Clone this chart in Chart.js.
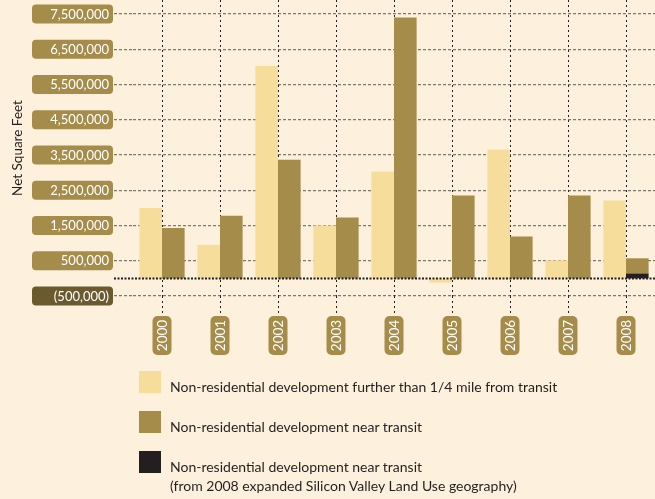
<!DOCTYPE html>
<html>
<head>
<meta charset="utf-8">
<script src="https://cdn.jsdelivr.net/npm/chart.js@4.4.1/dist/chart.umd.min.js"></script>
<style>
  html, body { margin: 0; padding: 0; background: #fdf1dd; }
  #wrap { position: relative; width: 655px; height: 499px; overflow: hidden; }
  #myChart { position: absolute; left: 0; top: 0; }
  .item { position: absolute; left: 139px; font-family: Lato, sans-serif; font-size: 14px; color: #231f20; white-space: nowrap; }
  .swatch { position: absolute; left: 0; top: 0; width: 22px; height: 22px; }
  .label { position: absolute; left: 31px; top: 6px; line-height: 19px; }
</style>
</head>
<body>
<div id="wrap">
  <canvas id="myChart" width="655" height="499"></canvas>
</div>
<script>
const years = ["2000", "2001", "2002", "2003", "2004", "2005", "2006", "2007", "2008"];
const furtherFromTransit = [2000000, 950000, 6030000, 1500000, 3030000, -120000, 3660000, 510000, 2210000];
const nearTransit = [1430000, 1780000, 3370000, 1730000, 7400000, 2350000, 1190000, 2350000, 430000];
const nearTransitExpanded = [null, null, null, null, null, null, null, null, 140000];
const yTicks = [-500000, 500000, 1500000, 2500000, 3500000, 4500000, 5500000, 6500000, 7500000];
const seriesNames = [
  ["Non-residential development further than 1/4 mile from transit"],
  ["Non-residential development near transit"],
  ["Non-residential development near transit", "(from 2008 expanded Silicon Valley Land Use geography)"]
];

const lightGold = "#f7dd9b";
const olive = "#a58c4b";
const nearBlack = "#231f20";
const darkPill = "#6b5a2f";

function fmt(v) {
  const s = Math.abs(v).toLocaleString("en-US");
  return v < 0 ? "(" + s + ")" : s;
}

// pills behind tick labels, dotted zero line
const pills = {
  id: "pills",
  afterDatasetsDraw(chart) {
    const { ctx, scales: { y } } = chart;
    const py = Math.round(y.getPixelForValue(0)) + 0.5;
    ctx.save();
    ctx.strokeStyle = nearBlack;
    ctx.lineWidth = 2;
    ctx.setLineDash([2, 1.5]);
    ctx.beginPath();
    ctx.moveTo(114, py);
    ctx.lineTo(655, py);
    ctx.stroke();
    ctx.restore();
  },
  afterDraw(chart) {
    const { ctx, scales: { x, y } } = chart;
    ctx.save();
    ctx.font = "13px Lato";
    ctx.textBaseline = "middle";
    yTicks.forEach(v => {
      const py = y.getPixelForValue(v);
      ctx.fillStyle = v < 0 ? darkPill : olive;
      ctx.beginPath();
      ctx.roundRect(32, py - 9.5, 81, 19, 4);
      ctx.fill();
      ctx.fillStyle = "#fff";
      ctx.textAlign = "right";
      ctx.fillText(fmt(v), 109, py + 0.5);
    });
    ctx.font = "13.5px Lato";
    years.forEach((yr, i) => {
      const px = x.getPixelForValue(i);
      ctx.fillStyle = olive;
      ctx.beginPath();
      ctx.roundRect(px - 9.5, 316, 19, 39, 5);
      ctx.fill();
      ctx.save();
      ctx.translate(px + 0.5, 335.5);
      ctx.rotate(-Math.PI / 2);
      ctx.fillStyle = "#fff";
      ctx.textAlign = "center";
      ctx.fillText(yr, 0, 0);
      ctx.restore();
    });
    ctx.restore();
  }
};

const ctx = document.getElementById("myChart");
new Chart(ctx, {
  type: "bar",
  data: {
    labels: years,
    datasets: [
      { label: seriesNames[0].join(" "), data: furtherFromTransit, backgroundColor: lightGold, stack: "a" },
      { label: seriesNames[2].join(" "), data: nearTransitExpanded, backgroundColor: nearBlack, stack: "b" },
      { label: seriesNames[1].join(" "), data: nearTransit, backgroundColor: olive, stack: "b" },
    ],
  },
  options: {
    responsive: false,
    animation: false,
    layout: { padding: { top: 0, left: 0, right: 0, bottom: 143 } },
    datasets: { bar: { categoryPercentage: 0.78, barPercentage: 1 } },
    plugins: { legend: { display: false }, tooltip: { enabled: false } },
    scales: {
      x: {
        stacked: true,
        grid: { offset: false, color: nearBlack, lineWidth: 1, tickLength: 20, borderDash: [2, 3], tickBorderDash: [2, 3] },
        border: { display: false, dash: [2, 3] },
        ticks: { display: false },
        afterFit(scale) { scale.height = 60; },
      },
      y: {
        stacked: true,
        min: -500000,
        max: 7900000,
        afterBuildTicks(scale) { scale.ticks = yTicks.map(v => ({ value: v })); },
        grid: { color: "rgba(50,45,40,0.62)", lineWidth: 1.3, tickLength: 19, borderDash: [3, 2], tickBorderDash: [3, 2] },
        border: { display: false, dash: [3, 2] },
        ticks: { display: false },
        title: { display: true, text: "Net Square Feet", color: nearBlack, font: { family: "Lato", size: 13.5 }, padding: { top: 10, bottom: 0 } },
        afterFit(scale) { scale.width = 133; },
      },
    },
  },
  plugins: [pills],
});

// legend as html, built from the series names
const legendColors = [lightGold, olive, nearBlack];
const legendTops = [371, 411, 451];
const wrap = document.getElementById("wrap");
seriesNames.forEach((lines, i) => {
  const item = document.createElement("div");
  item.className = "item";
  item.style.top = legendTops[i] + "px";
  const sw = document.createElement("div");
  sw.className = "swatch";
  sw.style.background = legendColors[i];
  const lab = document.createElement("div");
  lab.className = "label";
  lines.forEach((ln, j) => {
    if (j) lab.appendChild(document.createElement("br"));
    lab.appendChild(document.createTextNode(ln));
  });
  item.appendChild(sw);
  item.appendChild(lab);
  wrap.appendChild(item);
});
</script>
</body>
</html>
